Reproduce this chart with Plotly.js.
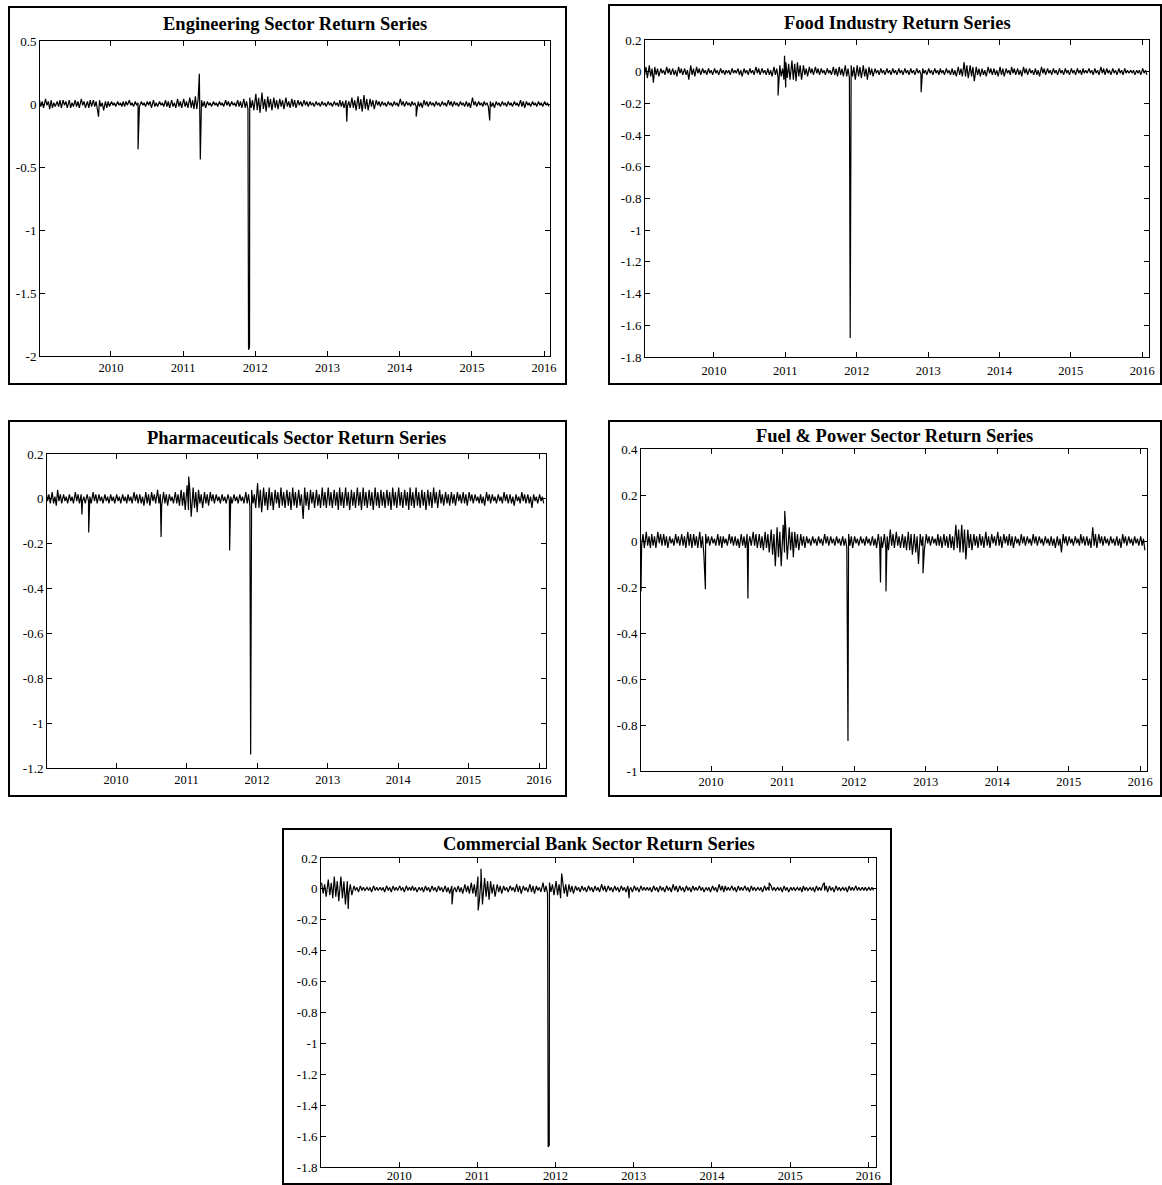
<!DOCTYPE html>
<html>
<head>
<meta charset="utf-8">
<script src="https://cdn.plot.ly/plotly-3.0.1.min.js"></script>
<style>html,body{margin:0;padding:0;background:#fff;}#chart{width:1162px;height:1185px;}</style>
</head>
<body>
<div id="chart"></div>
<script>
// ---------- DATA ----------
const months = [
 '2009-01','2009-02','2009-03','2009-04','2009-05','2009-06','2009-07','2009-08','2009-09','2009-10','2009-11','2009-12',
 '2010-01','2010-02','2010-03','2010-04','2010-05','2010-06','2010-07','2010-08','2010-09','2010-10','2010-11','2010-12',
 '2011-01','2011-02','2011-03','2011-04','2011-05','2011-06','2011-07','2011-08','2011-09','2011-10','2011-11','2011-12',
 '2012-01','2012-02','2012-03','2012-04','2012-05','2012-06','2012-07','2012-08','2012-09','2012-10','2012-11','2012-12',
 '2013-01','2013-02','2013-03','2013-04','2013-05','2013-06','2013-07','2013-08','2013-09','2013-10','2013-11','2013-12',
 '2014-01','2014-02','2014-03','2014-04','2014-05','2014-06','2014-07','2014-08','2014-09','2014-10','2014-11','2014-12',
 '2015-01','2015-02','2015-03','2015-04','2015-05','2015-06','2015-07','2015-08','2015-09','2015-10','2015-11','2015-12',
 '2016-01'];

const yearTickDates = ['2010-01-01','2011-01-01','2012-01-01','2013-01-01','2014-01-01','2015-01-01','2016-01-01'];
const yearTickLabels = ['2010','2011','2012','2013','2014','2015','2016'];

// Engineering Sector: per month, largest up-move (hi), largest down-move (lo),
// and a second, smaller up / down reading (hi2 / lo2)
const engHi = [0.03,0.04,0.03,0.02,0.03,0.03,0.03,0.04,0.02,0.03,0.03,0.02,
 0.02,0.02,0.02,0.03,0.02,0.02,0.02,0.03,0.02,0.03,0.03,0.04,
 0.04,0.05,0.06,0.03,0.02,0.02,0.02,0.03,0.02,0.03,0.04,0.05,
 0.08,0.09,0.06,0.05,0.04,0.05,0.04,0.03,0.03,0.02,0.02,0.02,
 0.02,0.02,0.03,0.03,0.05,0.06,0.07,0.04,0.03,0.02,0.02,0.02,
 0.04,0.02,0.02,0.02,0.03,0.02,0.02,0.02,0.03,0.02,0.02,0.02,
 0.05,0.02,0.02,0.02,0.02,0.02,0.02,0.02,0.03,0.02,0.02,0.02,
 0.02];
const engLo = [-0.03,-0.04,-0.02,-0.03,-0.03,-0.02,-0.03,-0.03,-0.02,-0.04,-0.05,-0.02,
 -0.02,-0.02,-0.01,-0.02,-0.02,-0.02,-0.03,-0.02,-0.02,-0.03,-0.03,-0.03,
 -0.03,-0.04,-0.05,-0.03,-0.02,-0.02,-0.02,-0.02,-0.02,-0.03,-0.04,-0.05,
 -0.07,-0.06,-0.05,-0.04,-0.04,-0.03,-0.03,-0.02,-0.02,-0.02,-0.02,-0.02,
 -0.02,-0.02,-0.03,-0.03,-0.05,-0.06,-0.05,-0.04,-0.02,-0.02,-0.02,-0.02,
 -0.02,-0.02,-0.02,-0.03,-0.02,-0.02,-0.02,-0.02,-0.02,-0.02,-0.02,-0.03,
 -0.02,-0.02,-0.02,-0.03,-0.02,-0.02,-0.02,-0.02,-0.03,-0.02,-0.02,-0.02,
 -0.02];
const engHi2 = [0.02,0.02,0.01,0.03,0.02,0.01,0.02,0.02,0.03,0.02,0.01,0.02,
 0.01,0.01,0.02,0.01,0.01,0.01,0.02,0.01,0.01,0.02,0.01,0.02,
 0.02,0.03,0.04,0.02,0.01,0.01,0.01,0.02,0.01,0.02,0.02,0.03,
 0.05,0.04,0.04,0.03,0.03,0.02,0.03,0.02,0.02,0.01,0.01,0.01,
 0.01,0.01,0.02,0.02,0.03,0.04,0.04,0.03,0.02,0.01,0.01,0.01,
 0.02,0.01,0.01,0.01,0.02,0.01,0.01,0.01,0.02,0.01,0.01,0.01,
 0.02,0.01,0.01,0.01,0.01,0.01,0.01,0.01,0.02,0.01,0.01,0.01,
 0.01];
const engLo2 = [-0.02,-0.01,-0.03,-0.02,-0.01,-0.03,-0.02,-0.01,-0.03,-0.02,-0.02,-0.03,
 -0.01,-0.01,-0.02,-0.01,-0.01,-0.01,-0.01,-0.02,-0.01,-0.02,-0.02,-0.02,
 -0.02,-0.03,-0.04,-0.02,-0.01,-0.01,-0.01,-0.01,-0.01,-0.02,-0.03,-0.03,
 -0.05,-0.04,-0.03,-0.03,-0.02,-0.02,-0.02,-0.01,-0.01,-0.01,-0.01,-0.01,
 -0.01,-0.01,-0.02,-0.02,-0.03,-0.04,-0.04,-0.02,-0.01,-0.01,-0.01,-0.01,
 -0.01,-0.01,-0.01,-0.02,-0.01,-0.01,-0.01,-0.01,-0.01,-0.01,-0.01,-0.02,
 -0.01,-0.01,-0.01,-0.02,-0.01,-0.01,-0.01,-0.01,-0.02,-0.01,-0.01,-0.01,
 -0.01];
const engSpikeDates = ['2009-10-30','2010-05-18','2011-03-24','2011-03-29','2011-11-28','2011-12-03','2013-04-08','2014-03-25','2015-04-01'];
const engSpikeVals  = [-0.10,-0.36,0.24,-0.44,-1.95,-1.93,-0.14,-0.10,-0.13];

// Food Industry
const foodHi = [0.07,0.04,0.03,0.02,0.03,0.02,0.03,0.02,0.04,0.03,0.02,0.02,
 0.02,0.02,0.01,0.02,0.02,0.02,0.02,0.03,0.02,0.02,0.03,0.04,
 0.06,0.07,0.06,0.04,0.03,0.03,0.02,0.02,0.03,0.03,0.04,0.04,
 0.04,0.04,0.03,0.02,0.02,0.02,0.02,0.02,0.02,0.02,0.02,0.02,
 0.02,0.02,0.02,0.02,0.02,0.03,0.06,0.04,0.03,0.02,0.03,0.02,
 0.03,0.02,0.03,0.02,0.03,0.02,0.02,0.03,0.02,0.02,0.02,0.02,
 0.02,0.02,0.02,0.02,0.02,0.03,0.02,0.02,0.02,0.02,0.01,0.01,
 0.02];
const foodLo = [-0.04,-0.07,-0.03,-0.02,-0.02,-0.03,-0.02,-0.05,-0.03,-0.02,-0.02,-0.02,
 -0.02,-0.02,-0.02,-0.01,-0.03,-0.02,-0.02,-0.02,-0.02,-0.03,-0.04,-0.05,
 -0.05,-0.06,-0.05,-0.03,-0.02,-0.02,-0.02,-0.02,-0.03,-0.03,-0.04,-0.05,
 -0.04,-0.05,-0.03,-0.02,-0.02,-0.02,-0.02,-0.02,-0.02,-0.02,-0.02,-0.02,
 -0.02,-0.02,-0.02,-0.02,-0.03,-0.03,-0.04,-0.06,-0.03,-0.03,-0.02,-0.03,
 -0.03,-0.02,-0.02,-0.03,-0.02,-0.02,-0.03,-0.02,-0.02,-0.02,-0.02,-0.02,
 -0.02,-0.02,-0.01,-0.02,-0.02,-0.02,-0.02,-0.02,-0.02,-0.01,-0.02,-0.02,
 -0.02];
const foodHi2 = [0.03,0.02,0.02,0.01,0.02,0.01,0.02,0.01,0.02,0.02,0.01,0.01,
 0.01,0.01,0.01,0.01,0.01,0.01,0.01,0.02,0.01,0.01,0.02,0.02,
 0.05,0.05,0.04,0.02,0.02,0.02,0.01,0.01,0.02,0.02,0.02,0.03,
 0.03,0.02,0.02,0.01,0.01,0.01,0.01,0.01,0.01,0.01,0.01,0.01,
 0.01,0.01,0.01,0.01,0.01,0.02,0.04,0.03,0.02,0.01,0.02,0.01,
 0.02,0.01,0.02,0.01,0.02,0.01,0.01,0.02,0.01,0.01,0.01,0.01,
 0.01,0.01,0.01,0.01,0.01,0.02,0.01,0.01,0.01,0.01,0.01,0.01,
 0.01];
const foodLo2 = [-0.02,-0.03,-0.02,-0.01,-0.01,-0.02,-0.01,-0.02,-0.02,-0.01,-0.01,-0.01,
 -0.01,-0.01,-0.01,-0.01,-0.02,-0.01,-0.01,-0.01,-0.01,-0.02,-0.02,-0.03,
 -0.04,-0.05,-0.03,-0.02,-0.01,-0.01,-0.01,-0.01,-0.02,-0.02,-0.03,-0.03,
 -0.03,-0.03,-0.02,-0.01,-0.01,-0.01,-0.01,-0.01,-0.01,-0.01,-0.01,-0.01,
 -0.01,-0.01,-0.01,-0.01,-0.02,-0.02,-0.03,-0.03,-0.02,-0.02,-0.01,-0.02,
 -0.02,-0.01,-0.01,-0.02,-0.01,-0.01,-0.02,-0.01,-0.01,-0.01,-0.01,-0.01,
 -0.01,-0.01,-0.01,-0.01,-0.01,-0.01,-0.01,-0.01,-0.01,-0.01,-0.01,-0.01,
 -0.01];
const foodSpikeDates = ['2010-11-25','2010-12-28','2011-01-03','2011-11-26','2011-11-29','2012-11-26'];
const foodSpikeVals  = [-0.15,0.10,-0.10,-1.07,-1.68,-0.13];

// Pharmaceuticals
const pharHi = [0.03,0.03,0.04,0.02,0.02,0.03,0.02,0.02,0.03,0.02,0.02,0.02,
 0.02,0.02,0.02,0.03,0.02,0.03,0.03,0.04,0.03,0.02,0.03,0.04,
 0.06,0.05,0.04,0.03,0.03,0.02,0.02,0.02,0.02,0.02,0.03,0.04,
 0.07,0.05,0.05,0.04,0.05,0.04,0.05,0.04,0.05,0.04,0.04,0.05,
 0.05,0.04,0.05,0.05,0.04,0.05,0.05,0.04,0.05,0.04,0.04,0.05,
 0.05,0.04,0.05,0.05,0.04,0.04,0.05,0.04,0.03,0.03,0.03,0.03,
 0.03,0.02,0.02,0.03,0.02,0.02,0.03,0.02,0.02,0.03,0.02,0.02,
 0.02];
const pharLo = [-0.02,-0.03,-0.02,-0.02,-0.02,-0.02,-0.02,-0.02,-0.02,-0.02,-0.02,-0.02,
 -0.02,-0.02,-0.02,-0.02,-0.03,-0.03,-0.02,-0.03,-0.03,-0.02,-0.03,-0.05,
 -0.08,-0.06,-0.04,-0.03,-0.02,-0.02,-0.02,-0.02,-0.02,-0.02,-0.03,-0.04,
 -0.06,-0.05,-0.05,-0.04,-0.04,-0.05,-0.04,-0.04,-0.05,-0.04,-0.04,-0.04,
 -0.04,-0.05,-0.04,-0.05,-0.04,-0.05,-0.04,-0.05,-0.04,-0.04,-0.05,-0.04,
 -0.04,-0.05,-0.04,-0.04,-0.05,-0.04,-0.04,-0.03,-0.03,-0.03,-0.02,-0.03,
 -0.02,-0.02,-0.03,-0.02,-0.02,-0.02,-0.02,-0.03,-0.02,-0.02,-0.04,-0.02,
 -0.02];
const pharHi2 = [0.02,0.01,0.02,0.01,0.01,0.02,0.01,0.01,0.02,0.01,0.01,0.01,
 0.01,0.01,0.01,0.02,0.01,0.02,0.02,0.02,0.02,0.01,0.02,0.03,
 0.04,0.03,0.02,0.02,0.02,0.01,0.01,0.01,0.01,0.01,0.02,0.02,
 0.04,0.03,0.03,0.03,0.03,0.03,0.03,0.02,0.03,0.03,0.02,0.03,
 0.03,0.03,0.03,0.03,0.03,0.03,0.03,0.03,0.03,0.03,0.03,0.03,
 0.03,0.03,0.03,0.03,0.03,0.03,0.03,0.02,0.02,0.02,0.02,0.02,
 0.02,0.01,0.01,0.02,0.01,0.01,0.02,0.01,0.01,0.02,0.01,0.01,
 0.01];
const pharLo2 = [-0.01,-0.02,-0.01,-0.01,-0.01,-0.01,-0.01,-0.01,-0.01,-0.01,-0.01,-0.01,
 -0.01,-0.01,-0.01,-0.01,-0.02,-0.02,-0.01,-0.02,-0.02,-0.01,-0.02,-0.03,
 -0.05,-0.04,-0.02,-0.02,-0.01,-0.01,-0.01,-0.01,-0.01,-0.01,-0.02,-0.02,
 -0.04,-0.03,-0.03,-0.02,-0.03,-0.03,-0.03,-0.03,-0.03,-0.02,-0.03,-0.03,
 -0.03,-0.03,-0.03,-0.03,-0.03,-0.03,-0.03,-0.03,-0.03,-0.03,-0.03,-0.03,
 -0.03,-0.03,-0.03,-0.03,-0.03,-0.03,-0.02,-0.02,-0.02,-0.02,-0.01,-0.02,
 -0.01,-0.01,-0.02,-0.01,-0.01,-0.01,-0.01,-0.02,-0.01,-0.01,-0.02,-0.01,
 -0.01];
const pharSpikeDates = ['2009-07-08','2009-08-12','2010-08-22','2011-01-12','2011-08-12','2011-11-26','2011-11-29','2012-08-27'];
const pharSpikeVals  = [-0.07,-0.15,-0.17,0.10,-0.23,-1.06,-1.14,-0.09];

// Fuel & Power
const fuelHi = [0.04,0.04,0.03,0.04,0.03,0.02,0.03,0.03,0.04,0.03,0.04,0.03,
 0.02,0.03,0.02,0.03,0.02,0.03,0.03,0.04,0.03,0.04,0.05,0.06,
 0.07,0.06,0.04,0.03,0.02,0.02,0.02,0.03,0.02,0.02,0.02,0.03,
 0.02,0.02,0.02,0.02,0.03,0.03,0.05,0.04,0.03,0.04,0.03,0.03,
 0.03,0.02,0.03,0.03,0.03,0.07,0.07,0.05,0.03,0.03,0.04,0.03,
 0.04,0.03,0.03,0.02,0.03,0.02,0.03,0.02,0.02,0.02,0.02,0.03,
 0.02,0.02,0.03,0.02,0.06,0.03,0.02,0.02,0.02,0.03,0.02,0.02,
 0.02];
const fuelLo = [-0.03,-0.03,-0.03,-0.02,-0.03,-0.02,-0.02,-0.03,-0.03,-0.03,-0.06,-0.02,
 -0.02,-0.03,-0.02,-0.02,-0.03,-0.03,-0.02,-0.03,-0.04,-0.05,-0.11,-0.11,
 -0.08,-0.07,-0.04,-0.03,-0.02,-0.02,-0.02,-0.02,-0.02,-0.02,-0.03,-0.03,
 -0.02,-0.02,-0.02,-0.03,-0.03,-0.04,-0.03,-0.03,-0.04,-0.06,-0.10,-0.04,
 -0.02,-0.02,-0.03,-0.03,-0.04,-0.05,-0.08,-0.04,-0.03,-0.03,-0.03,-0.02,
 -0.03,-0.02,-0.03,-0.02,-0.02,-0.02,-0.02,-0.02,-0.02,-0.03,-0.05,-0.02,
 -0.02,-0.02,-0.02,-0.03,-0.03,-0.02,-0.02,-0.02,-0.03,-0.02,-0.02,-0.02,
 -0.04];
const fuelHi2 = [0.03,0.02,0.02,0.03,0.02,0.01,0.02,0.02,0.03,0.02,0.02,0.02,
 0.01,0.02,0.01,0.02,0.01,0.02,0.02,0.03,0.02,0.03,0.03,0.04,
 0.05,0.04,0.03,0.02,0.01,0.01,0.01,0.02,0.01,0.01,0.01,0.02,
 0.01,0.01,0.01,0.01,0.02,0.02,0.03,0.02,0.02,0.03,0.02,0.02,
 0.02,0.01,0.02,0.02,0.02,0.05,0.05,0.03,0.02,0.02,0.02,0.02,
 0.02,0.02,0.02,0.01,0.02,0.01,0.02,0.01,0.01,0.01,0.01,0.02,
 0.01,0.01,0.02,0.01,0.03,0.02,0.01,0.01,0.01,0.02,0.01,0.01,
 0.01];
const fuelLo2 = [-0.02,-0.02,-0.02,-0.01,-0.02,-0.01,-0.01,-0.02,-0.02,-0.02,-0.03,-0.01,
 -0.01,-0.02,-0.01,-0.01,-0.02,-0.02,-0.01,-0.02,-0.03,-0.03,-0.06,-0.07,
 -0.05,-0.04,-0.03,-0.02,-0.01,-0.01,-0.01,-0.01,-0.01,-0.01,-0.02,-0.02,
 -0.01,-0.01,-0.01,-0.02,-0.02,-0.03,-0.02,-0.02,-0.03,-0.04,-0.05,-0.02,
 -0.01,-0.01,-0.02,-0.02,-0.03,-0.03,-0.05,-0.03,-0.02,-0.02,-0.02,-0.01,
 -0.02,-0.01,-0.02,-0.01,-0.01,-0.01,-0.01,-0.01,-0.01,-0.02,-0.02,-0.01,
 -0.01,-0.01,-0.01,-0.02,-0.02,-0.01,-0.01,-0.01,-0.02,-0.01,-0.01,-0.01,
 -0.02];
const fuelSpikeDates = ['2009-01-08','2009-12-03','2010-07-08','2011-01-12','2011-12-01','2012-05-15','2012-06-12','2012-12-18'];
const fuelSpikeVals  = [-0.22,-0.21,-0.25,0.13,-0.87,-0.18,-0.22,-0.14];

// Commercial Bank
const bankHi = [0.04,0.06,0.08,0.08,0.05,0.02,0.02,0.01,0.02,0.01,0.02,0.02,
 0.02,0.02,0.02,0.01,0.02,0.02,0.02,0.02,0.02,0.02,0.03,0.04,
 0.08,0.07,0.05,0.03,0.02,0.02,0.03,0.02,0.03,0.02,0.04,0.04,
 0.05,0.04,0.03,0.02,0.02,0.02,0.02,0.03,0.02,0.02,0.02,0.02,
 0.02,0.02,0.01,0.02,0.02,0.02,0.03,0.02,0.02,0.02,0.02,0.01,
 0.02,0.03,0.02,0.02,0.02,0.02,0.02,0.01,0.02,0.02,0.01,0.02,
 0.01,0.01,0.02,0.01,0.02,0.03,0.02,0.02,0.01,0.02,0.02,0.01,
 0.01];
const bankLo = [-0.05,-0.06,-0.08,-0.10,-0.04,-0.02,-0.01,-0.02,-0.01,-0.02,-0.02,-0.01,
 -0.02,-0.01,-0.02,-0.02,-0.02,-0.02,-0.02,-0.03,-0.02,-0.03,-0.03,-0.05,
 -0.10,-0.07,-0.05,-0.03,-0.02,-0.02,-0.03,-0.02,-0.03,-0.02,-0.03,-0.04,
 -0.06,-0.05,-0.03,-0.02,-0.02,-0.02,-0.02,-0.02,-0.02,-0.02,-0.02,-0.02,
 -0.02,-0.01,-0.02,-0.02,-0.02,-0.02,-0.02,-0.02,-0.02,-0.01,-0.02,-0.02,
 -0.02,-0.02,-0.01,-0.02,-0.01,-0.02,-0.01,-0.02,-0.01,-0.01,-0.02,-0.02,
 -0.01,-0.02,-0.01,-0.02,-0.01,-0.02,-0.02,-0.01,-0.02,-0.01,-0.01,-0.01,
 -0.01];
const bankHi2 = [0.03,0.04,0.05,0.05,0.03,0.01,0.01,0.01,0.01,0.01,0.01,0.01,
 0.01,0.01,0.01,0.01,0.01,0.01,0.01,0.01,0.01,0.01,0.02,0.03,
 0.06,0.05,0.03,0.02,0.01,0.01,0.02,0.01,0.02,0.01,0.02,0.03,
 0.03,0.03,0.02,0.01,0.01,0.01,0.01,0.02,0.01,0.01,0.01,0.01,
 0.01,0.01,0.01,0.01,0.01,0.01,0.02,0.01,0.01,0.01,0.01,0.01,
 0.01,0.02,0.01,0.01,0.01,0.01,0.01,0.01,0.01,0.01,0.01,0.01,
 0.01,0.01,0.01,0.01,0.01,0.02,0.01,0.01,0.01,0.01,0.01,0.01,
 0.01];
const bankLo2 = [-0.03,-0.04,-0.05,-0.06,-0.03,-0.01,-0.01,-0.01,-0.01,-0.01,-0.01,-0.01,
 -0.01,-0.01,-0.01,-0.01,-0.01,-0.01,-0.01,-0.02,-0.01,-0.02,-0.02,-0.03,
 -0.07,-0.05,-0.03,-0.02,-0.01,-0.01,-0.02,-0.01,-0.02,-0.01,-0.02,-0.02,
 -0.04,-0.03,-0.02,-0.01,-0.01,-0.01,-0.01,-0.01,-0.01,-0.01,-0.01,-0.01,
 -0.01,-0.01,-0.01,-0.01,-0.01,-0.01,-0.01,-0.01,-0.01,-0.01,-0.01,-0.01,
 -0.01,-0.01,-0.01,-0.01,-0.01,-0.01,-0.01,-0.01,-0.01,-0.01,-0.01,-0.01,
 -0.01,-0.01,-0.01,-0.01,-0.01,-0.01,-0.01,-0.01,-0.01,-0.01,-0.01,-0.01,
 -0.01];
const bankSpikeDates = ['2009-05-08','2010-09-05','2011-01-05','2011-01-18','2011-11-28','2011-12-03','2012-01-30','2012-12-10','2014-09-25','2015-06-10'];
const bankSpikeVals  = [-0.13,-0.10,-0.14,0.13,-1.67,-1.66,0.10,-0.06,0.04,0.04];

// y tick labels
const engYVals = [0.5,0,-0.5,-1,-1.5,-2];
const engYText = ['0.5','0','-0.5','-1','-1.5','-2'];
const foodYVals = [0.2,0,-0.2,-0.4,-0.6,-0.8,-1,-1.2,-1.4,-1.6,-1.8];
const foodYText = ['0.2','0','-0.2','-0.4','-0.6','-0.8','-1','-1.2','-1.4','-1.6','-1.8'];
const pharYVals = [0.2,0,-0.2,-0.4,-0.6,-0.8,-1,-1.2];
const pharYText = ['0.2','0','-0.2','-0.4','-0.6','-0.8','-1','-1.2'];
const fuelYVals = [0.4,0.2,0,-0.2,-0.4,-0.6,-0.8,-1];
const fuelYText = ['0.4','0.2','0','-0.2','-0.4','-0.6','-0.8','-1'];
const bankYVals = foodYVals;
const bankYText = foodYText;

const titles = ['Engineering Sector Return Series','Food Industry Return Series','Pharmaceuticals Sector Return Series','Fuel &amp; Power Sector Return Series','Commercial Bank Sector Return Series'];

// ---------- BUILD ----------
function buildSeries(hi, lo2, hi2, lo, sDates, sVals) {
  const pts = [];
  months.forEach((m, i) => {
    pts.push([m + '-04', hi[i]]);
    pts.push([m + '-11', lo2[i]]);
    pts.push([m + '-18', hi2[i]]);
    pts.push([m + '-25', lo[i]]);
  });
  sDates.forEach((d, i) => pts.push([d, sVals[i]]));
  pts.sort((a, b) => (a[0] < b[0] ? -1 : a[0] > b[0] ? 1 : 0));
  return { x: pts.map(p => p[0]), y: pts.map(p => p[1]) };
}

const W = 1162, H = 1185;
const px = v => v / W;
const py = v => 1 - v / H;

const panels = [
  { s: buildSeries(engHi, engLo2, engHi2, engLo, engSpikeDates, engSpikeVals), l: 40, r: 550, t: 41, b: 356, frame: [9, 7, 566, 384], xr: ['2009-01-07', '2016-01-31'], yr: [-2, 0.5], yv: engYVals, yt: engYText, so: 0 },
  { s: buildSeries(foodHi, foodLo2, foodHi2, foodLo, foodSpikeDates, foodSpikeVals), l: 645, r: 1149, t: 40, b: 357, frame: [609, 5, 1161, 384], xr: ['2009-01-13', '2016-02-05'], yr: [-1.8, 0.2], yv: foodYVals, yt: foodYText, so: 2 },
  { s: buildSeries(pharHi, pharLo2, pharHi2, pharLo, pharSpikeDates, pharSpikeVals), l: 47, r: 546, t: 454, b: 768, frame: [9, 421, 566, 796], xr: ['2009-01-08', '2016-02-06'], yr: [-1.2, 0.2], yv: pharYVals, yt: pharYText, so: 0 },
  { s: buildSeries(fuelHi, fuelLo2, fuelHi2, fuelLo, fuelSpikeDates, fuelSpikeVals), l: 641, r: 1147, t: 449, b: 771, frame: [609, 421, 1161, 796], xr: ['2009-01-08', '2016-02-05'], yr: [-1, 0.4], yv: fuelYVals, yt: fuelYText, so: -1 },
  { s: buildSeries(bankHi, bankLo2, bankHi2, bankLo, bankSpikeDates, bankSpikeVals), l: 321, r: 876, t: 858, b: 1167, frame: [283, 829, 891, 1184], xr: ['2009-01-01', '2016-02-06'], yr: [-1.8, 0.2], yv: bankYVals, yt: bankYText, so: -3 }
];
const titleY = [24, 23, 438, 436, 844];

const serif = '"Liberation Serif", "Times New Roman", serif';
const tickFont = { family: serif, size: 13, color: '#000' };
const xTickFont = { family: serif, size: 12.5, color: '#000' };
const data = [];
const layout = {
  width: W, height: H,
  margin: { l: 0, r: 0, t: 0, b: 0 },
  paper_bgcolor: '#fff', plot_bgcolor: '#fff',
  showlegend: false,
  font: tickFont,
  shapes: [], annotations: []
};

panels.forEach((p, i) => {
  const n = i === 0 ? '' : String(i + 1);
  data.push({
    type: 'scatter', mode: 'lines', x: p.s.x, y: p.s.y,
    xaxis: 'x' + n, yaxis: 'y' + n,
    line: { color: '#000', width: 1.2 }, hoverinfo: 'skip'
  });
  layout['xaxis' + n] = {
    domain: [px(p.l), px(p.r)], anchor: 'y' + n, type: 'date', range: p.xr,
    tickmode: 'array', tickvals: yearTickDates, ticktext: yearTickLabels,
    ticks: 'inside', ticklen: 5, tickcolor: '#000', showline: true, mirror: 'ticks',
    linecolor: '#000', linewidth: 1, showgrid: false, zeroline: false,
    tickfont: xTickFont, ticklabelstandoff: p.so, fixedrange: true
  };
  layout['yaxis' + n] = {
    domain: [py(p.b), py(p.t)], anchor: 'x' + n, range: p.yr,
    tickmode: 'array', tickvals: p.yv, ticktext: p.yt,
    ticks: 'inside', ticklen: 5, tickcolor: '#000', showline: true, mirror: 'ticks',
    linecolor: '#000', linewidth: 1, showgrid: false, zeroline: false,
    tickfont: tickFont, fixedrange: true
  };
  const f = p.frame;
  layout.shapes.push({
    type: 'rect', xref: 'paper', yref: 'paper',
    x0: px(f[0]), x1: px(f[2]), y0: py(f[3]), y1: py(f[1]),
    line: { color: '#000', width: 2 }, fillcolor: 'rgba(0,0,0,0)'
  });
  layout.annotations.push({
    xref: 'paper', yref: 'paper', x: px((p.l + p.r) / 2), y: py(titleY[i]),
    xanchor: 'center', yanchor: 'middle', showarrow: false,
    text: titles[i],
    font: { family: serif, size: 18.5, color: '#000', weight: 700 }
  });
});

Plotly.newPlot('chart', data, layout, { staticPlot: true, displayModeBar: false });
</script>
</body>
</html>
